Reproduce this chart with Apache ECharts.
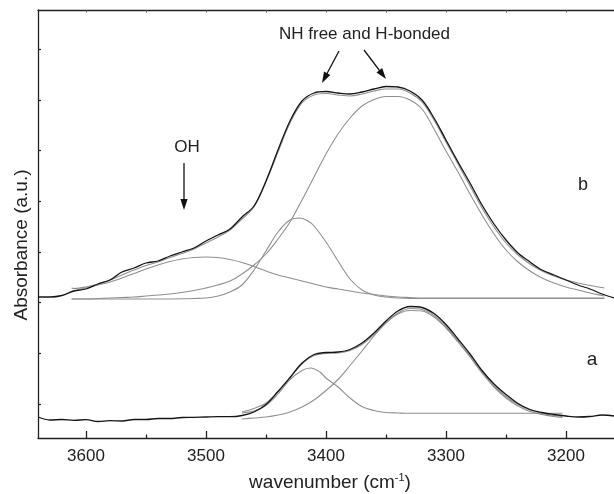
<!DOCTYPE html>
<html>
<head>
<meta charset="utf-8">
<script src="https://cdn.jsdelivr.net/npm/echarts@6/dist/echarts.min.js"></script>
<style>
html,body{margin:0;padding:0;background:#fff;}
#chart{width:614px;height:494px;}
</style>
</head>
<body>
<div id="chart"></div>
<script>
// ---- data (wavenumber in cm-1, absorbance in arbitrary units) ----
var wnExp = [3640,3630,3620,3610,3600,3590,3580,3570,3560,3550,3540,3530,3520,3510,3500,3490,3480,3470,3460,3450,3440,3430,3420,3410,3400,3390,3380,3370,3360,3350,3340,3330,3320,3310,3300,3290,3280,3270,3260,3250,3240,3230,3220,3210,3200,3190,3180,3170,3160];
var expB = [107,107,108.5,113,115,120,124,132,136,141,143,148,152,156,163,169,175,187,198,223,254,283,303,311,312.5,311,310,312,315,317.5,317,313,304,286,264,242,221,199,180,164,151,142,134,129,124,119,115,110,106];
var expA = [-13,-16,-15.5,-16.3,-15.7,-17.5,-16.7,-17,-15.5,-15.5,-14.5,-14.5,-13.5,-13.3,-13,-12.7,-12.7,-11.5,-8,-0.5,12.5,26.5,41,49.5,51.5,52,54.5,61,71,83,93,97.5,96.5,90.5,79.5,65,50,33.5,20,9.5,0.5,-5.5,-8.5,-10.5,-12,-13,-12.5,-11,-12];

var wnFitB = [3612,3610,3600,3590,3580,3570,3560,3550,3540,3530,3520,3510,3500,3490,3480,3470,3460,3450,3440,3430,3420,3410,3400,3390,3380,3370,3360,3350,3340,3330,3320,3310,3300,3290,3280,3270,3260,3250,3240,3230,3220,3210,3200,3190,3180,3170,3168];
var sumB = [116,115.5,117,120,124,129,134,138.5,142,146.5,150.5,155,161,167,174,185,197,222,252,281,301,309,310.5,309,308,310,313,315,315,311,302,284,262,240,218,196,177,161,149,140,133,128,124,121,118.5,116.5,116];
var ohB = [112.5,113.5,116,119,122,126,130.5,135,139,142.5,145,146.5,147,146.5,144.5,141.5,137.5,133,129,126,123,120,117,115,113,111,109.5,108,107,106.5,106,106,106,106,106,106,106,106,106,106,106,106,106,106,106,106,106];
var nhBondedB = [105,105,105,105.5,106,106.5,107,108,109,110,111.5,113.5,116,119,123,130,139,150,165,182,204,227,250,270,286,298,304.5,307.5,307.5,304,295,275,253,232,210,189,170,154,142,133,126,121,117,114,111,108.5,108];
var wnFreeB = [3612,3600,3580,3560,3540,3520,3510,3500,3490,3480,3470,3460,3450,3440,3430,3422,3415,3410,3400,3390,3380,3370,3360,3350,3340,3330,3168];
var nhFreeB = [105,105,105,105,105,105.2,105.5,106,108,112,119,134,153,172,184,186,183,178,162,143,125,114,109,107,106,105.5,105.5];

var wnFitA = [3470,3460,3450,3440,3430,3420,3410,3400,3390,3380,3370,3360,3350,3340,3330,3320,3310,3300,3290,3280,3270,3260,3250,3240,3230,3220,3210,3203];
var sumA = [-8,-4.5,1,12.5,26,40,48.5,50.5,51,53.5,59.5,69.5,81.5,91,95.5,94.5,88.5,77.5,63,48,32,18,7.5,-0.5,-6,-9.5,-11.5,-12.5];
var nhBondedA = [-15,-14,-13,-11,-8,-3,4,13.5,24.5,38.5,53,68,81,90,93.5,93,87,76,62,47,31,17,6,-2,-7.5,-10.5,-12.5,-13.5];
var wnFreeA = [3470,3460,3450,3440,3430,3420,3413,3405,3400,3390,3380,3370,3360,3350,3340,3330,3203];
var nhFreeA = [-9,-7,-1.5,10,24.5,33.5,36,32,26,17,6,-2.5,-6.5,-8.5,-9,-9.3,-9.3];

var xLabels = [3200,3300,3400,3500,3600];
var xMinor = [3250,3350,3450,3550];
var xTopTicks = [3200,3250,3300,3350,3400,3450,3500,3550,3600];
var yTicks = [0,50.67,101.33,152,202.67,253.33,304,354.67];

// ---- build ----
function pairs(xs, ys){ return xs.map(function(x,i){ return [x, ys[i]]; }); }
var FONT = 'Liberation Sans, Arial, Helvetica, sans-serif';
var GRAY = '#8f8f8f', BLACK = '#151515';

function grayLine(xs, ys){
  return {type:'line', data:pairs(xs,ys), showSymbol:false, smooth:0.35, z:2,
    lineStyle:{color:GRAY, width:1.1}, silent:true, animation:false};
}
function blackLine(xs, ys){
  return {type:'line', data:pairs(xs,ys), showSymbol:false, smooth:0.35, z:3,
    lineStyle:{color:BLACK, width:1.3}, silent:true, animation:false};
}

function arrow(x1,y1,x2,y2){
  var dx=x2-x1, dy=y2-y1, L=Math.sqrt(dx*dx+dy*dy), ux=dx/L, uy=dy/L;
  var hl=11, hw=3.6;
  var bx=x2-hl*ux, by=y2-hl*uy, px=-uy, py=ux;
  return [
    {type:'line', shape:{x1:x1,y1:y1,x2:bx+ux*2,y2:by+uy*2}, style:{stroke:'#111', lineWidth:1.3}},
    {type:'polygon', shape:{points:[[x2,y2],[bx+hw*px,by+hw*py],[bx-hw*px,by-hw*py]]}, style:{fill:'#111'}}
  ];
}

var graphics = [
  {type:'text', x:187, y:147, style:{text:'OH', font:'17px '+FONT, fill:'#222', align:'center', verticalAlign:'middle'}},
  {type:'text', x:364.5, y:34, style:{text:'NH free and H-bonded', font:'17px '+FONT, fill:'#222', align:'center', verticalAlign:'middle'}},
  {type:'text', x:583, y:185, style:{text:'b', font:'18px '+FONT, fill:'#222', align:'center', verticalAlign:'middle'}},
  {type:'text', x:592, y:360, style:{text:'a', font:'19px '+FONT, fill:'#222', align:'center', verticalAlign:'middle'}},
  {type:'text', x:22, y:245, rotation:Math.PI/2, style:{text:'Absorbance (a.u.)', font:'19px '+FONT, fill:'#222', align:'center', verticalAlign:'middle'}},
  {type:'text', x:330, y:483, style:{text:'{n|wavenumber (cm}{s|-1}{n|)}', align:'center', verticalAlign:'middle',
      rich:{n:{fontSize:19, fontFamily:FONT, fill:'#222', lineHeight:22}, s:{fontSize:11, fontFamily:FONT, fill:'#222', lineHeight:22, verticalAlign:'top'}}}}
].concat(arrow(184,163,184,210)).concat(arrow(339,51,322,83)).concat(arrow(364,50,386,79));

var axisCommon = {type:'value', min:3160, max:3640, inverse:true, splitLine:{show:false}};
var option = {
  animation:false,
  backgroundColor:'#fff',
  grid:{left:38, right:0, top:10, bottom:56},
  xAxis:[
    Object.assign({}, axisCommon, {position:'bottom',
      axisLine:{show:true, onZero:false, lineStyle:{color:'#222', width:1.3}},
      axisTick:{show:true, inside:true, length:7, customValues:xLabels, lineStyle:{color:'#222', width:1.3}},
      axisLabel:{show:true, customValues:xLabels, fontSize:17, fontFamily:FONT, color:'#222', margin:10,
        formatter:function(v){ return String(Math.round(v)); }}}),
    Object.assign({}, axisCommon, {position:'bottom',
      axisLine:{show:false, onZero:false},
      axisTick:{show:true, inside:true, length:3.5, customValues:xMinor, lineStyle:{color:'#222', width:1.3}},
      axisLabel:{show:false}}),
    Object.assign({}, axisCommon, {position:'top',
      axisLine:{show:true, onZero:false, lineStyle:{color:'#222', width:1.3}},
      axisTick:{show:true, inside:true, length:2.5, customValues:xTopTicks, lineStyle:{color:'#555', width:1}},
      axisLabel:{show:false}})
  ],
  yAxis:[{type:'value', min:-34, max:394, position:'left', splitLine:{show:false},
    axisLine:{show:true, onZero:false, lineStyle:{color:'#222', width:1.3}},
    axisTick:{show:true, inside:true, length:3, customValues:yTicks, lineStyle:{color:'#222', width:1.2}},
    axisLabel:{show:false}}],
  series:[
    grayLine(wnFitB, ohB),
    grayLine(wnFitB, nhBondedB),
    grayLine(wnFreeB, nhFreeB),
    grayLine(wnFitB, sumB),
    grayLine(wnFreeA, nhFreeA),
    grayLine(wnFitA, nhBondedA),
    grayLine(wnFitA, sumA),
    blackLine(wnExp, expB),
    blackLine(wnExp, expA)
  ],
  graphic: graphics
};
var chart = echarts.init(document.getElementById('chart'), null, {renderer:'canvas'});
chart.setOption(option);
</script>
</body>
</html>
